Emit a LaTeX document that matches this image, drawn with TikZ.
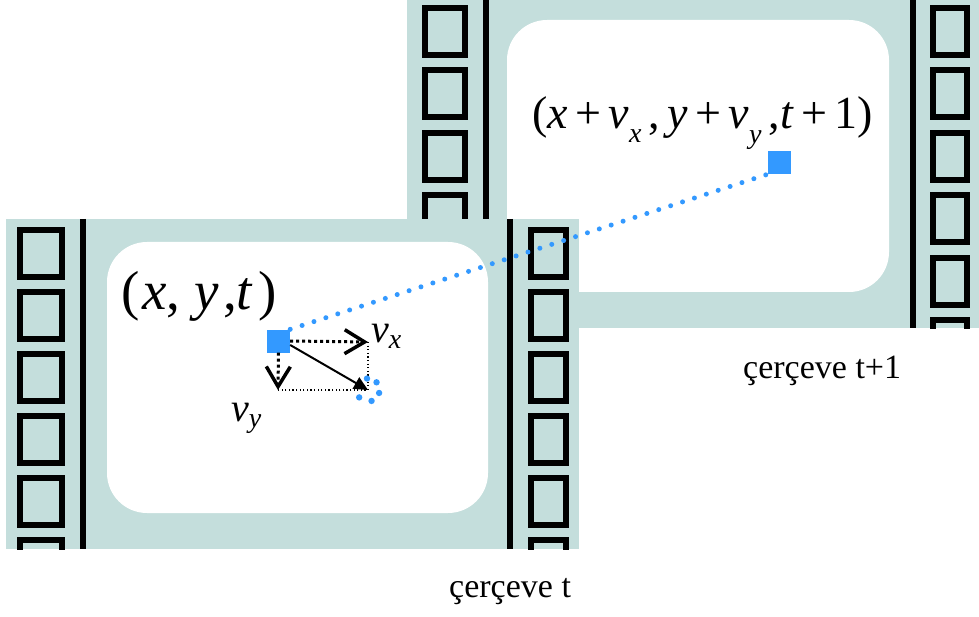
\documentclass[tikz,border=0pt]{standalone}
\usepackage{fontspec}
\setmainfont{Liberation Serif}
\usetikzlibrary{arrows.meta}
\definecolor{filmteal}{RGB}{196,222,220}
\definecolor{ptblue}{RGB}{51,153,255}
\newcommand\lowsub[3]{\raisebox{#1}{\fontsize{#2}{#2}\selectfont\textit{#3}}}
\tikzset{
 film/.style={fill=filmteal, draw=none},
 screen/.style={fill=white, draw=none, rounded corners=40pt},
 rail/.style={line width=6pt, draw=black},
 hole/.style={line width=6pt, draw=black},
 pixel/.style={fill=ptblue, draw=none, minimum size=23pt, inner sep=0pt, rectangle},
 track/.style={draw=ptblue, line width=5pt, line cap=round, dash pattern=on 0pt off 12.5pt},
 comp/.style={line width=3pt, dash pattern=on 3pt off 3pt},
 guide/.style={line width=1.2pt, dash pattern=on 1.2pt off 2.4pt},
 mathlbl/.style={inner sep=0pt, anchor=base west},
 caption/.style={inner sep=0pt, anchor=base west, font=\fontsize{34}{40}\selectfont},
}
\begin{document}
\begin{tikzpicture}[x=1pt,y=-1pt]
\useasboundingbox (0,0) rectangle (979,617);
% back frame (t+1)
\fill[film] (407,0) rectangle (979,328);
\begin{scope}
\clip (407,0) rectangle (979,328);
\foreach \y in {5,67.5,130,192.5,255,317.5}{
 \draw[hole] (425,\y+3) rectangle (465,\y+50);
 \draw[hole] (933,\y+3) rectangle (967,\y+50);
}
\end{scope}
\draw[rail] (486,0) -- (486,328);
\draw[rail] (913,0) -- (913,328);
\fill[screen] (507,20) rectangle (889,292);
% front frame (t)
\fill[film] (6,219) rectangle (579,549);
\begin{scope}
\clip (6,219) rectangle (579,549);
\foreach \y in {227,289,351,413,475,537}{
 \draw[hole] (20,\y+3) rectangle (62,\y+50);
 \draw[hole] (531,\y+3) rectangle (566,\y+50);
}
\end{scope}
\draw[rail] (83,219) -- (83,549);
\draw[rail] (510,219) -- (510,549);
\fill[screen] (107,242) rectangle (488,513);
% labels
\node[mathlbl, font=\fontsize{55}{60}\selectfont] (pos1) at (121,309) {(\hspace{0.05em}\textit{x}, \textit{y}\hspace{0.08em},\textit{t}\hspace{0.1em})};
\node[mathlbl, font=\fontsize{46}{52}\selectfont] (pos2) at (532,129) {(\textit{x}\hspace{0.16em}+\hspace{0.16em}\textit{v}\lowsub{-0.3em}{28}{x}\hspace{0.16em},\hspace{0.16em}\textit{y}\hspace{0.16em}+\hspace{0.16em}\textit{v}\lowsub{-0.32em}{28}{y}\hspace{0.16em},\textit{t}\hspace{0.16em}+\hspace{0.16em}1)};
\node[mathlbl, font=\fontsize{40}{46}\selectfont] (vxl) at (371,342) {\textit{v}\lowsub{-0.15em}{28}{x}};
\node[mathlbl, font=\fontsize{40}{46}\selectfont] (vyl) at (231,421) {\textit{v}\lowsub{-0.15em}{28}{y}};
\node[caption] (cap1) at (449,597) {çerçeve t};
\node[caption] (cap2) at (743,378) {çerçeve t+1};
% points and vectors
\node[pixel] (p1) at (278.5,341) {};
\node[pixel] (p2) at (779.5,162.5) {};
\coordinate (vx) at (368,342);
\coordinate (vy) at (278,390);
\coordinate (vc) at (368,390);
\draw[guide] (vx) -- (vc) -- (vy);
\draw[comp, -{Straight Barb[length=20pt,width=24pt,line width=3.5pt]}] (p1.east) -- (vx);
\draw[comp, -{Straight Barb[length=20pt,width=24pt,line width=3.5pt]}] (p1.south) -- (vy);
\draw[line width=2pt, -{Triangle[length=14pt,width=13pt]}] ([yshift=-4pt]p1.east) -- (vc);
\draw[track] (p1.north east) -- (p2.south west);
\foreach \a in {-95,-42,15,72,140}{
 \fill[ptblue] (vc) ++(\a:11.5) circle[radius=3.2];
}
\end{tikzpicture}
\end{document}
